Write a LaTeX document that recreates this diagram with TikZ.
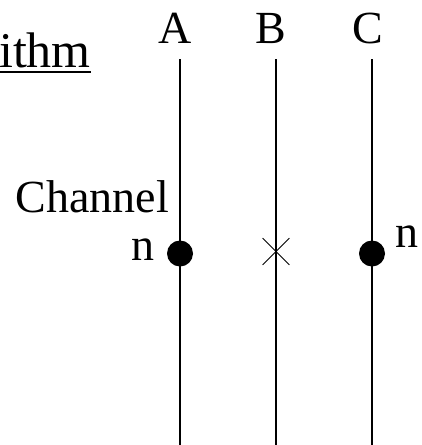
\documentclass[tikz,border=0pt]{standalone}
\usepackage{fontspec}
\setmainfont{Liberation Serif}
\usetikzlibrary{shapes.misc}
\begin{document}
\begin{tikzpicture}[x=1pt,y=-1pt,
  lbl/.style={inner sep=0pt,font=\fontsize{46}{55}\selectfont},
  wire/.style={line width=2pt},
  dotnode/.style={circle,fill=black,inner sep=0pt,minimum size=26pt},
  xnode/.style={cross out,draw,line width=0.8pt,inner sep=0pt,minimum size=26pt}]
\useasboundingbox (0,0) rectangle (421,445);
% title fragment
\node[lbl,anchor=base east,font=\fontsize{50}{60}\selectfont] (title) at (91,67) {ithm};
\coordinate (ulL) at (0,72);
\coordinate (ulR) at (91,72);
\draw[line width=2pt] (ulL) -- (ulR);
% column labels
\node[lbl,anchor=base] (A) at (175,43) {A};
\node[lbl,anchor=base] (B) at (271,43) {B};
\node[lbl,anchor=base] (C) at (368,43) {C};
% line ends
\coordinate (At) at (180,59); \coordinate (Ab) at (180,446);
\coordinate (Bt) at (276,59); \coordinate (Bb) at (276,446);
\coordinate (Ct) at (372,59); \coordinate (Cb) at (372,446);
\draw[wire] (At) -- (Ab);
\draw[wire] (Bt) -- (Bb);
\draw[wire] (Ct) -- (Cb);
% markers
\node[dotnode] (dA) at (180,253.5) {};
\node[xnode] (xB) at (276,251.5) {};
\node[dotnode] (dC) at (372,253.5) {};
% texts
\node[lbl,anchor=base east] (chan) at (169,212) {Channel};
\node[lbl,anchor=base east] (nA) at (155,260) {n};
\node[lbl,anchor=base west] (nC) at (395,247) {n};
\end{tikzpicture}
\end{document}
